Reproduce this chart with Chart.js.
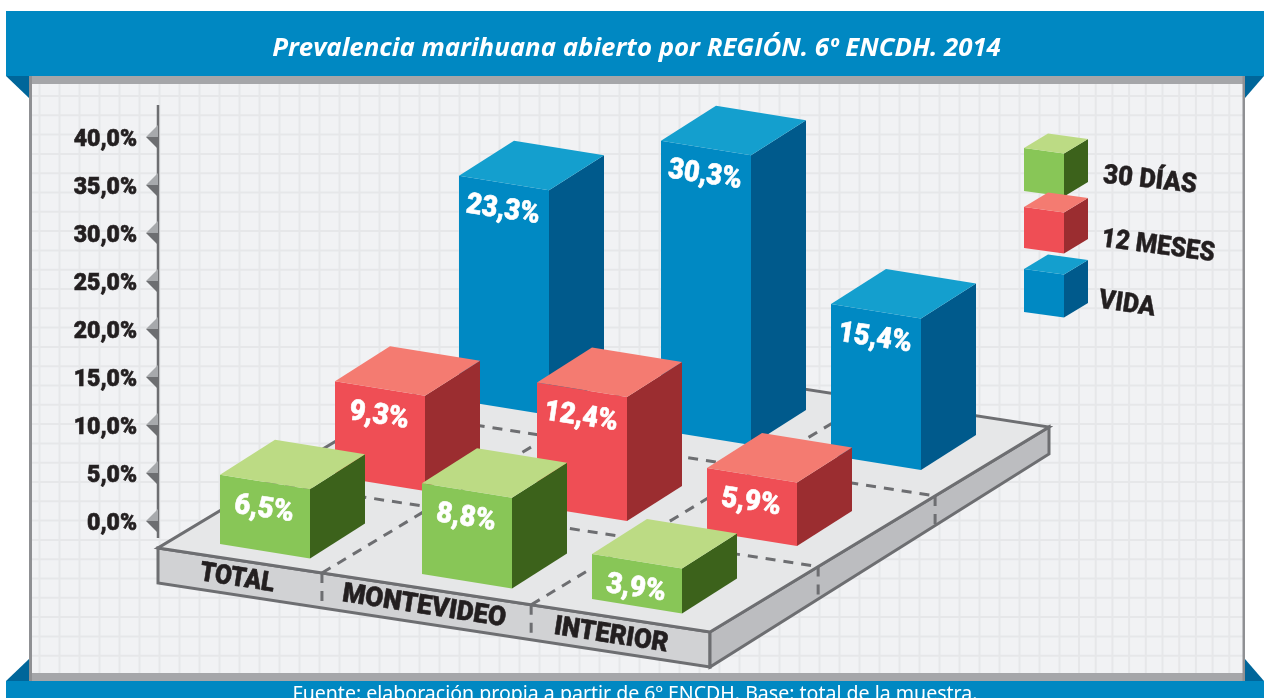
<!DOCTYPE html>
<html lang="es">
<head>
<meta charset="utf-8">
<title>Prevalencia marihuana abierto por REGIÓN</title>
<script src="https://cdn.jsdelivr.net/npm/chart.js@4"></script>
<style>
html,body{margin:0;padding:0;background:#fff;overflow:hidden}
canvas{display:block}
</style>
</head>
<body>
<canvas id="c" width="1264" height="698"></canvas>
<script>
// ---------- data ----------
const categories = ['TOTAL', 'MONTEVIDEO', 'INTERIOR'];
const seriesNames = ['30 DÍAS', '12 MESES', 'VIDA'];
const dias30 = [6.5, 8.8, 3.9];
const meses12 = [9.3, 12.4, 5.9];
const vida = [23.3, 30.3, 15.4];
const titleText = 'Prevalencia marihuana abierto por REGIÓN. 6º ENCDH. 2014';
const sourceText = 'Fuente: elaboración propia a partir de 6º ENCDH. Base: total de la muestra.';

// ---------- styling ----------
const palette = [
  {front:'#88c657', top:'#bcdb84', side:'#3c621b'},
  {front:'#ef4e55', top:'#f47b71', side:'#9b2d30'},
  {front:'#0089c3', top:'#149fce', side:'#005a8c'}
];
const INK = '#231f20', LINE = '#6d6e71', BLUE = '#0088c2', FOLD = '#00669a';
const HEAVY = '"Roboto"';

// oblique projection of the floor
const PROJ = {
  widthDy: 14.5, depthDx: 55, depthDy: -35,
  laneDx: [0, 115, 239], laneDy: [0, -67.5, -143.5],
  catNudge: [14, 30, 14], catSlope: 0.148, floorDy: 20,
  heightK: 0.965, heightExtra: 9
};
const PLAT = {
  fl:[158,548], fr:[710,632], br:[1049,427], bl:[501,342],
  depthL:35, depthF:35, depthR:27,
  catT:[0.297,0.676], laneT:[0.319,0.664]
};
const LEGEND = [
  {x:1024, y:148, h:43, tx:1150, ty:181, a:6,   w:94},
  {x:1024, y:207, h:41, tx:1158, ty:247, a:7.6, w:114},
  {x:1024, y:269, h:43, tx:1127, ty:305, a:8.4, w:57}
];
const CAT_LABELS = [
  {x:237, y:579, w:75}, {x:424, y:607, w:165}, {x:611, y:636, w:115}
];

function poly(ctx, pts, fill, stroke, lw){
  ctx.beginPath();
  pts.forEach((p,i)=> i ? ctx.lineTo(p[0],p[1]) : ctx.moveTo(p[0],p[1]));
  ctx.closePath();
  if(fill){ctx.fillStyle=fill;ctx.fill();}
  if(stroke){ctx.strokeStyle=stroke;ctx.lineWidth=lw||2;ctx.stroke();}
}
function fitText(ctx, text, cx, cy, deg, font, color, width, bold){
  ctx.save();
  ctx.translate(cx,cy);
  ctx.rotate(deg*Math.PI/180);
  ctx.font=font;
  ctx.textAlign='center';
  ctx.textBaseline='middle';
  ctx.fillStyle=color;
  if(width){ctx.scale(width/ctx.measureText(text).width,1);}
  if(bold){ctx.strokeStyle=color;ctx.lineWidth=bold;ctx.lineJoin='round';ctx.strokeText(text,0,0);}
  ctx.fillText(text,0,0);
  ctx.restore();
}
function cube(ctx, x, top, bottom, w, wDy, dDx, dDy, c){
  poly(ctx,[[x+w,top+wDy],[x+w+dDx,top+wDy+dDy],[x+w+dDx,bottom+wDy+dDy],[x+w,bottom+wDy]],c.side);
  poly(ctx,[[x,top],[x+w,top+wDy],[x+w,bottom+wDy],[x,bottom]],c.front);
  poly(ctx,[[x,top],[x+w,top+wDy],[x+w+dDx,top+wDy+dDy],[x+dDx,top+dDy]],c.top);
}
function lerp(a,b,t){return [a[0]+(b[0]-a[0])*t,a[1]+(b[1]-a[1])*t];}

const scene = {
  id:'scene',
  afterLayout(chart){
    // the title spans the whole ribbon, not only the plot part of the canvas
    const t=chart.titleBlock;
    t.left=9;t.right=1264;t.width=1255;
  },
  beforeDraw(chart){
    const ctx=chart.ctx;
    ctx.save();
    ctx.fillStyle='#fff';ctx.fillRect(0,0,1264,698);
    // panel
    ctx.fillStyle='#f1f2f4';ctx.fillRect(30,76,1215,605);
    ctx.strokeStyle='#e6e7e9';ctx.lineWidth=2;
    ctx.beginPath();
    for(let x=39.5;x<=1065;x+=20){ctx.moveTo(x,84);ctx.lineTo(x,674);}
    for(let x=1079;x<=1240;x+=16.7){ctx.moveTo(x,84);ctx.lineTo(x,674);}
    for(let y=96;y<=670;y+=19.3){ctx.moveTo(30,y);ctx.lineTo(1245,y);}
    ctx.stroke();
    ctx.fillStyle='#a5a6a9';ctx.fillRect(30,76,1215,8);ctx.fillRect(30,673,1215,8);
    ctx.fillStyle='#8f9093';ctx.fillRect(29,76,3,605);ctx.fillRect(1242.5,76,2.5,605);
    // ribbons
    poly(ctx,[[6,76],[29,76],[29,98]],FOLD);
    poly(ctx,[[1245,76],[1264,76],[1245,98]],FOLD);
    poly(ctx,[[6,681],[29,681],[29,659]],FOLD);
    poly(ctx,[[1245,681],[1264,681],[1245,659]],FOLD);
    ctx.fillStyle=BLUE;ctx.fillRect(6,11,1258,65);ctx.fillRect(6,681,1258,17);
    // source
    fitText(ctx,sourceText,635,695,0,'400 19px "Noto Sans"','#fff',685);
    ctx.restore();
  },
  beforeDatasetsDraw(chart){
    const ctx=chart.ctx, y=chart.scales.y;
    ctx.save();
    // y axis line and tick arrows
    ctx.strokeStyle=LINE;ctx.lineWidth=2.5;
    ctx.beginPath();ctx.moveTo(158,105);ctx.lineTo(158,538);ctx.stroke();
    y.ticks.forEach((t,i)=>{
      const py=y.getPixelForTick(i)-3;
      poly(ctx,[[146,py],[158,py-12],[158,py]],'#a7a9ac');
      poly(ctx,[[146,py],[158,py+12],[158,py]],'#6d6e71');
    });
    // platform
    const {fl,fr,br,bl,depthL,depthF,depthR}=PLAT;
    const d=(p,h)=>[p[0],p[1]+h];
    poly(ctx,[fl,fr,d(fr,depthF),d(fl,depthL)],'#d1d2d4',LINE,3);
    poly(ctx,[fr,br,d(br,depthR),d(fr,depthF)],'#bcbdc0',LINE,3);
    poly(ctx,[fl,fr,br,bl],'#e6e7e8',LINE,3);
    ctx.strokeStyle=LINE;ctx.lineWidth=3;ctx.setLineDash([10,8]);
    ctx.beginPath();
    PLAT.catT.forEach(t=>{
      const a=lerp(fl,fr,t),b=lerp(bl,br,t);
      ctx.moveTo(a[0],a[1]);ctx.lineTo(b[0],b[1]);
      ctx.moveTo(a[0],a[1]);ctx.lineTo(a[0],a[1]+depthF);
    });
    PLAT.laneT.forEach(t=>{
      const a=lerp(fl,bl,t),b=lerp(fr,br,t);
      ctx.moveTo(a[0],a[1]);ctx.lineTo(b[0],b[1]);
      ctx.moveTo(b[0],b[1]);ctx.lineTo(b[0],b[1]+depthF-(depthF-depthR)*t);
    });
    ctx.stroke();ctx.setLineDash([]);
    // category names on the platform edge
    categories.forEach((name,i)=>{
      const l=CAT_LABELS[i];
      fitText(ctx,name,l.x,l.y,8.8,'900 27px '+HEAVY,INK,l.w,0.6);
    });
    // legend
    seriesNames.forEach((name,i)=>{
      const l=LEGEND[i];
      cube(ctx,l.x,l.y,l.y+l.h,40,5.5,24,-14.5,palette[i]);
      fitText(ctx,name,l.tx,l.ty,l.a,'900 27px '+HEAVY,INK,l.w,0.4);
    });
    ctx.restore();
  },
  beforeDatasetDraw(chart,args){
    const ctx=chart.ctx, s=args.index, meta=args.meta, c=palette[s];
    const first=meta.data[0].x;
    ctx.save();
    meta.data.forEach((el,i)=>{
      const w=el.width;
      const x0=el.x-w/2+PROJ.catNudge[i];
      const floor=el.base+PROJ.floorDy+(el.x+PROJ.catNudge[i]-first-PROJ.catNudge[0])*PROJ.catSlope;
      const left=x0+PROJ.laneDx[s];
      const bottom=floor+PROJ.laneDy[s];
      const h=(el.base-el.y)*PROJ.heightK+PROJ.heightExtra;
      const top=bottom-h;
      cube(ctx,left,top,bottom,w,PROJ.widthDy,PROJ.depthDx,PROJ.depthDy,c);
      const label=chart.data.datasets[s].data[i].toFixed(1).replace('.',',')+'%';
      fitText(ctx,label,left+44,top+35,8.5,'900 29px '+HEAVY,'#fff',60+(label.length-4)*14,0.6);
    });
    ctx.restore();
    return false;
  }
};

new Chart(document.getElementById('c'),{
  type:'bar',
  data:{
    labels:categories,
    datasets:[
      {label:seriesNames[0],data:dias30,backgroundColor:palette[0].front},
      {label:seriesNames[1],data:meses12,backgroundColor:palette[1].front},
      {label:seriesNames[2],data:vida,backgroundColor:palette[2].front}
    ]
  },
  plugins:[scene],
  options:{
    responsive:false,
    animation:false,
    events:[],
    layout:{padding:{left:0,right:548,top:0,bottom:174}},
    datasets:{bar:{grouped:false,barThickness:90}},
    plugins:{
      legend:{display:false},
      tooltip:{enabled:false},
      title:{
        display:true,
        text:titleText,
        color:'#fff',
        font:{family:'"Open Sans"',size:25.8,weight:'700',style:'italic'},
        padding:{top:33,bottom:76}
      }
    },
    scales:{
      x:{display:false,type:'category'},
      y:{
        type:'linear',min:0,max:40,
        afterFit(a){a.width=158;},
        grid:{display:false},
        border:{display:false},
        ticks:{
          stepSize:5,
          padding:13,
          color:INK,
          textStrokeColor:INK,
          textStrokeWidth:0.6,
          font:{family:HEAVY,size:23,weight:'900'},
          callback:v=>v.toFixed(1).replace('.',',')+'%'
        }
      }
    }
  }
});
</script>
</body>
</html>
